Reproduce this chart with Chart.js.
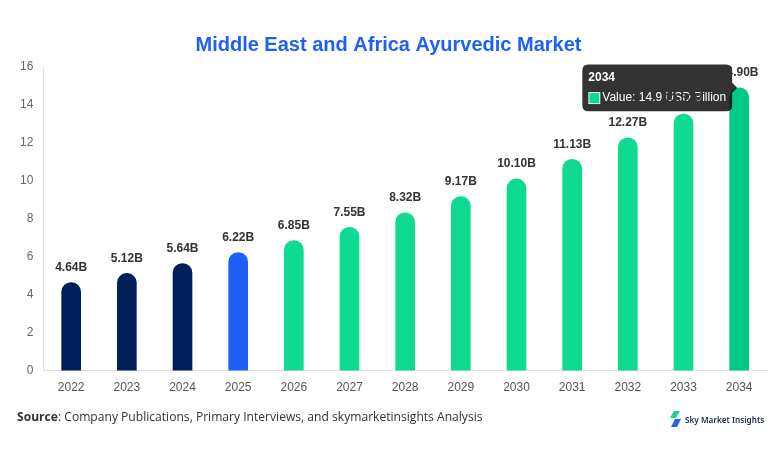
<!DOCTYPE html>
<html>
<head>
<meta charset="utf-8">
<script src="https://cdn.jsdelivr.net/npm/chart.js@4.4.1/dist/chart.umd.min.js"></script>
<style>
  html,body{margin:0;padding:0;background:#fff;}
  #wrap{position:relative;width:782px;height:454px;}
  #c{position:absolute;left:0;top:0;}
  #src{position:absolute;left:17px;top:408px;font-family:"Open Sans","Noto Sans",sans-serif;font-size:12.1px;color:#333;}
  #src b{font-weight:700;}
  #logo{position:absolute;left:669px;top:411px;display:flex;align-items:center;font-family:"Noto Sans","Open Sans",sans-serif;font-size:8.2px;font-weight:600;color:#1a2550;}
</style>
</head>
<body>
<div id="wrap">
  <canvas id="c" width="782" height="454"></canvas>
  <div id="src"><b>Source</b>: Company Publications, Primary Interviews, and skymarketinsights Analysis</div>
  <div id="logo">
    <svg width="13" height="16" viewBox="0 0 13 16" style="margin-right:3px">
      <polygon points="5,0 11,0 7,7 1,7" fill="#1ed48a"/>
      <polygon points="6,8 12,8 8,16 2,16" fill="#2762f0"/>
    </svg>
    <span>Sky Market Insights</span>
  </div>
</div>
<script>
const categories = ["2022","2023","2024","2025","2026","2027","2028","2029","2030","2031","2032","2033","2034"];
const values = [4.64, 5.12, 5.64, 6.22, 6.85, 7.55, 8.32, 9.17, 10.10, 11.13, 12.27, 13.52, 14.90];
const labels = ["4.64B","5.12B","5.64B","6.22B","6.85B","7.55B","8.32B","9.17B","10.10B","11.13B","12.27B","13.52B","14.90B"];
const yTicks = [0,2,4,6,8,10,12,14,16];

const NAVY = '#001f5b', BLUE = '#1f5ff5', GREEN = '#0edb8f', GREEN_H = '#00c983';
const colors = categories.map((c,i)=> i<3 ? NAVY : (i===3 ? BLUE : GREEN));
const hoverColors = categories.map((c,i)=> i<3 ? NAVY : (i===3 ? BLUE : GREEN_H));

const labelPlugin = {
  id: 'valLabels',
  afterDraw(chart){
    const ctx = chart.ctx;
    const meta = chart.getDatasetMeta(0);
    ctx.save();
    ctx.font = 'bold 12px "Liberation Sans", Arial, sans-serif';
    ctx.fillStyle = '#333';
    ctx.textAlign = 'center';
    ctx.textBaseline = 'bottom';
    meta.data.forEach((bar,i)=>{
      ctx.fillText(labels[i], bar.x, bar.y - 9);
    });
    ctx.restore();
  }
};

const chart = new Chart(document.getElementById('c'), {
  type: 'bar',
  data: {
    labels: categories,
    datasets: [{
      label: 'Value',
      data: values,
      backgroundColor: colors,
      hoverBackgroundColor: hoverColors,
      borderWidth: 0,
      barThickness: 19,
      borderRadius: {topLeft: 10, topRight: 10, bottomLeft: 0, bottomRight: 0},
      borderSkipped: false
    }]
  },
  options: {
    responsive: false,
    animation: false,
    layout: {padding: {left: 10, right: 15, top: 0, bottom: 49}},
    plugins: {
      legend: {display: false},
      title: {
        display: true,
        text: 'Middle East and Africa Ayurvedic Market',
        color: '#1f5ff5',
        font: {family: '"Liberation Sans", Arial, sans-serif', size: 20, weight: 'bold'},
        padding: {top: 33, bottom: 10}
      },
      tooltip: {
        enabled: true,
        backgroundColor: 'rgba(0,0,0,0.8)',
        titleFont: {family: '"Liberation Sans", Arial, sans-serif', size: 12, weight: 'bold'},
        bodyFont: {family: '"Liberation Sans", Arial, sans-serif', size: 12},
        callbacks: {
          label: (c) => 'Value: ' + c.parsed.y + ' USD Billion'
        }
      }
    },
    scales: {
      x: {
        grid: {display: false, drawTicks: false},
        border: {display: true, color: '#e0e0e0'},
        ticks: {color: '#555', padding: 10, font: {family: '"Liberation Sans", Arial, sans-serif', size: 12}}
      },
      y: {
        min: 0, max: 16,
        afterBuildTicks: (s) => { s.ticks = yTicks.map(v => ({value: v})); },
        grid: {display: false, drawTicks: false},
        border: {display: true, color: '#e0e0e0'},
        ticks: {color: '#666', padding: 10, font: {family: '"Liberation Sans", Arial, sans-serif', size: 12}}
      }
    }
  },
  plugins: [labelPlugin]
});

const meta = chart.getDatasetMeta(0);
const b = meta.data[12];
chart.setActiveElements([{datasetIndex: 0, index: 12}]);
chart.tooltip.setActiveElements([{datasetIndex: 0, index: 12}], {x: b.x, y: b.y});
chart.update();
</script>
</body>
</html>
